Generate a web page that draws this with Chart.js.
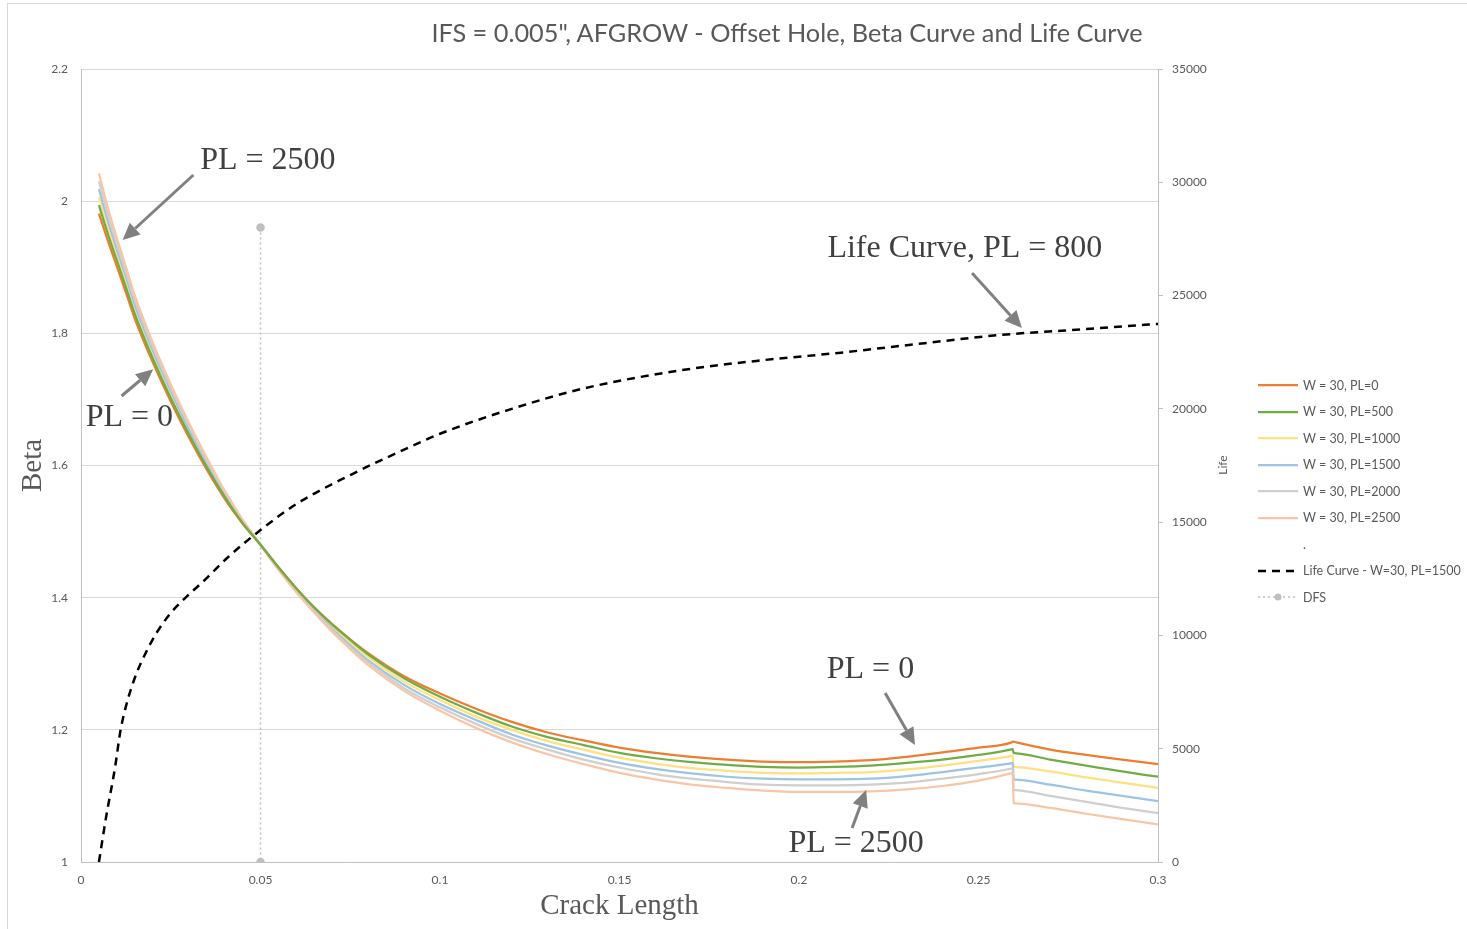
<!DOCTYPE html>
<html>
<head>
<meta charset="utf-8">
<script src="https://cdn.jsdelivr.net/npm/chart.js@4.4.1/dist/chart.umd.min.js"></script>
<style>
  body { margin: 0; background: #fff; }
  #wrap { position: relative; width: 1467px; height: 929px; overflow: hidden; }
  #frame { position: absolute; left: 7px; top: 3px; width: 1470px; height: 940px; border: 1px solid #d9d9d9; box-sizing: border-box; }
  #title { position: absolute; top: 17px; left: 0; width: 1574px; text-align: center; font: 25.3px Lato, sans-serif; color: #595959; }
  #lifeTitle { position: absolute; left: 1222px; top: 465px; transform: translate(-50%, -50%) rotate(-90deg); font: 12px Lato, sans-serif; color: #595959; }
  #legend { position: absolute; left: 1258px; top: 372px; font: 12.5px Lato, sans-serif; color: #595959; }
  .item { height: 26.5px; display: flex; align-items: center; white-space: nowrap; }
  .item svg { width: 40px; height: 10px; margin-right: 5px; }
</style>
</head>
<body>
<div id="wrap">
  <canvas id="myChart" width="1467" height="929"></canvas>
  <div id="frame"></div>
  <div id="title">IFS = 0.005", AFGROW - Offset Hole, Beta Curve and Life Curve</div>
  <div id="lifeTitle">Life</div>
  <div id="legend"></div>
</div>
<script>
// crack length (in) shared by the beta curves
const crackLength = [0.005, 0.0075, 0.01, 0.0125, 0.015, 0.02, 0.025, 0.03, 0.035, 0.04, 0.045, 0.05, 0.055, 0.06, 0.065, 0.07, 0.075, 0.08,
  0.09, 0.1, 0.11, 0.12, 0.13, 0.14, 0.15, 0.16, 0.17, 0.18, 0.19, 0.2, 0.21, 0.22, 0.23, 0.24, 0.25,
  0.2592, 0.2595, 0.2598, 0.2601, 0.27, 0.28, 0.29, 0.3];

const betaPL0 = [1.981, 1.940, 1.901, 1.862, 1.822, 1.756, 1.697, 1.643, 1.594, 1.550, 1.512, 1.480, 1.446, 1.414, 1.385, 1.360, 1.337, 1.316,
  1.281, 1.255, 1.232, 1.212, 1.196, 1.184, 1.173, 1.165, 1.159, 1.155, 1.152, 1.151, 1.152, 1.154, 1.159, 1.166, 1.173,
  1.181, 1.182, 1.182, 1.1816, 1.170, 1.162, 1.155, 1.148];
const betaPL500 = [1.994, 1.950, 1.910, 1.870, 1.829, 1.762, 1.702, 1.648, 1.598, 1.553, 1.513, 1.480, 1.446, 1.414, 1.385, 1.359, 1.336, 1.314,
  1.278, 1.250, 1.226, 1.205, 1.189, 1.177, 1.165, 1.157, 1.151, 1.147, 1.144, 1.143, 1.144, 1.146, 1.150, 1.155, 1.162,
  1.1705, 1.171, 1.165, 1.1647, 1.155, 1.146, 1.137, 1.129];
const betaPL1000 = [2.006, 1.960, 1.919, 1.878, 1.836, 1.768, 1.708, 1.652, 1.601, 1.555, 1.514, 1.480, 1.445, 1.412, 1.382, 1.356, 1.332, 1.310,
  1.273, 1.245, 1.220, 1.200, 1.183, 1.170, 1.158, 1.149, 1.142, 1.138, 1.135, 1.134, 1.135, 1.136, 1.140, 1.146, 1.153,
  1.1605, 1.161, 1.144, 1.1437, 1.137, 1.128, 1.120, 1.112];
const betaPL1500 = [2.018, 1.970, 1.927, 1.886, 1.843, 1.774, 1.713, 1.656, 1.605, 1.557, 1.516, 1.480, 1.444, 1.410, 1.380, 1.353, 1.328, 1.305,
  1.268, 1.239, 1.215, 1.193, 1.176, 1.162, 1.150, 1.141, 1.134, 1.129, 1.126, 1.125, 1.125, 1.126, 1.130, 1.136, 1.143,
  1.1495, 1.150, 1.125, 1.1247, 1.117, 1.108, 1.100, 1.092];
const betaPL2000 = [2.030, 1.980, 1.935, 1.893, 1.850, 1.780, 1.718, 1.661, 1.608, 1.560, 1.517, 1.480, 1.443, 1.409, 1.379, 1.351, 1.325, 1.302,
  1.263, 1.234, 1.209, 1.187, 1.170, 1.155, 1.143, 1.133, 1.126, 1.121, 1.117, 1.116, 1.116, 1.117, 1.120, 1.126, 1.133,
  1.1415, 1.142, 1.109, 1.1087, 1.100, 1.091, 1.082, 1.074];
const betaPL2500 = [2.042, 1.990, 1.944, 1.901, 1.857, 1.786, 1.723, 1.665, 1.612, 1.562, 1.518, 1.480, 1.442, 1.408, 1.377, 1.348, 1.322, 1.298,
  1.259, 1.229, 1.203, 1.181, 1.163, 1.148, 1.135, 1.125, 1.117, 1.112, 1.108, 1.106, 1.106, 1.107, 1.110, 1.115, 1.123,
  1.1345, 1.135, 1.089, 1.0887, 1.082, 1.073, 1.065, 1.057];

// life curve, W=30, PL=1500 (right axis)
const lifeCrack = [0.005, 0.007, 0.0095, 0.011, 0.013, 0.0155, 0.018, 0.021, 0.025, 0.029, 0.0345, 0.041, 0.05, 0.06, 0.075, 0.09, 0.1,
  0.12, 0.14, 0.167, 0.19, 0.211, 0.235, 0.256, 0.28, 0.3];
const lifeCycles = [0, 1990, 4190, 5800, 7150, 8340, 9220, 10100, 10990, 11650, 12450, 13460, 14650, 15800, 17080, 18200, 18900,
  20000, 20900, 21700, 22150, 22470, 22900, 23260, 23520, 23750];

// DFS marker line
const dfsCrack = [0.05, 0.05];
const dfsBeta = [1.96, 1.0];

const seriesNames = ['W = 30, PL=0', 'W = 30, PL=500', 'W = 30, PL=1000', 'W = 30, PL=1500', 'W = 30, PL=2000', 'W = 30, PL=2500'];
const seriesColors = ['#ED7D31', '#70AD47', '#FFE082', '#9DC3E6', '#D0CECE', '#F8C6A6'];
const betaSeries = [betaPL0, betaPL500, betaPL1000, betaPL1500, betaPL2000, betaPL2500];

const pts = (xs, ys) => xs.map((x, i) => ({ x: x, y: ys[i] }));

// annotation text + arrows, placed in data units
const notes = [
  { text: 'PL = 2500', at: [0.0332, 2.062], align: 'left', from: [0.0313, 2.0396], to: [0.0116, 1.9412] },
  { text: 'PL = 0', at: [0.0013, 1.672], align: 'left', from: [0.0113, 1.7052], to: [0.0201, 1.7456] },
  { text: 'Life Curve, PL = 800', at: [0.2462, 1.9276], align: 'center', from: [0.2482, 1.8913], to: [0.2621, 1.8081] },
  { text: 'PL = 0', at: [0.2199, 1.2906], align: 'center', from: [0.2240, 1.2557], to: [0.2323, 1.1770] },
  { text: 'PL = 2500', at: [0.2159, 1.0275], align: 'center', from: [0.2148, 1.0515], to: [0.2187, 1.1090] }
];

const notesPlugin = {
  id: 'notes',
  afterDatasetsDraw(chart) {
    const ctx = chart.ctx, xs = chart.scales.x, ys = chart.scales.y;
    ctx.save();
    notes.forEach(n => {
      const x1 = xs.getPixelForValue(n.from[0]), y1 = ys.getPixelForValue(n.from[1]);
      const x2 = xs.getPixelForValue(n.to[0]), y2 = ys.getPixelForValue(n.to[1]);
      const ang = Math.atan2(y2 - y1, x2 - x1);
      const hl = 17, hw = 8;
      const bx = x2 - hl * Math.cos(ang), by = y2 - hl * Math.sin(ang);
      ctx.strokeStyle = '#808080';
      ctx.fillStyle = '#808080';
      ctx.lineWidth = 3;
      ctx.beginPath();
      ctx.moveTo(x1, y1);
      ctx.lineTo(bx, by);
      ctx.stroke();
      ctx.beginPath();
      ctx.moveTo(x2, y2);
      ctx.lineTo(bx + hw * Math.sin(ang), by - hw * Math.cos(ang));
      ctx.lineTo(bx - hw * Math.sin(ang), by + hw * Math.cos(ang));
      ctx.closePath();
      ctx.fill();
      ctx.fillStyle = '#404040';
      ctx.font = '32px "Liberation Serif", serif';
      ctx.textAlign = n.align;
      ctx.textBaseline = 'middle';
      ctx.fillText(n.text, xs.getPixelForValue(n.at[0]), ys.getPixelForValue(n.at[1]));
    });
    ctx.restore();
  }
};

const datasets = betaSeries.map((s, i) => ({
  label: seriesNames[i],
  data: pts(crackLength, s),
  borderColor: seriesColors[i],
  borderWidth: 2.25,
  yAxisID: 'y',
  order: 10 - i
}));
// draw order in the reference: PL=2500 underneath, PL=500 on top
datasets[0].order = 2;
datasets[1].order = 1;
datasets.push({
  label: 'Life Curve - W=30, PL=1500',
  data: pts(lifeCrack, lifeCycles),
  borderColor: '#000',
  borderWidth: 2.5,
  borderDash: [8, 6],
  yAxisID: 'y1',
  order: 0
});
datasets.push({
  label: 'DFS',
  data: pts(dfsCrack, dfsBeta),
  borderColor: '#BFBFBF',
  borderWidth: 1.5,
  borderDash: [2, 3],
  pointRadius: 3.5,
  pointBackgroundColor: '#BFBFBF',
  pointBorderColor: '#BFBFBF',
  cubicInterpolationMode: 'default',
  tension: 0,
  yAxisID: 'y',
  order: 20
});

const tickFont = { family: 'Lato', size: 12 };
const fmt = v => String(Math.round(v * 1000) / 1000);

new Chart(document.getElementById('myChart'), {
  type: 'scatter',
  data: { datasets: datasets },
  options: {
    responsive: false,
    animation: false,
    datasets: { scatter: { showLine: true, pointRadius: 0, cubicInterpolationMode: 'monotone' } },
    layout: { padding: { left: 0, top: 69, right: 229, bottom: 0 } },
    plugins: { legend: { display: false }, tooltip: { enabled: false } },
    scales: {
      x: {
        type: 'linear', min: 0, max: 0.3,
        ticks: { stepSize: 0.05, color: '#595959', font: tickFont, padding: 11, callback: fmt },
        grid: { display: false, drawTicks: false },
        border: { color: '#BFBFBF' },
        title: { display: true, text: 'Crack Length', color: '#595959', font: { family: 'Liberation Serif', size: 29 }, padding: { top: 0, bottom: 5 } },
        afterFit: s => { s.height = 67; }
      },
      y: {
        min: 1, max: 2.2,
        ticks: { stepSize: 0.2, color: '#595959', font: tickFont, padding: 13, callback: fmt },
        grid: { color: '#D9D9D9', drawTicks: false },
        border: { color: '#BFBFBF' },
        title: { display: true, text: 'Beta', color: '#595959', font: { family: 'Liberation Serif', size: 29 }, padding: { top: 16, bottom: 0 } },
        afterFit: s => { s.width = 81; }
      },
      y1: {
        position: 'right', min: 0, max: 35000,
        ticks: { stepSize: 5000, color: '#595959', font: tickFont, padding: 9, callback: fmt },
        grid: { drawOnChartArea: false, tickLength: 5, color: '#BFBFBF' },
        border: { color: '#BFBFBF' },
        afterFit: s => { s.width = 80; }
      }
    }
  },
  plugins: [notesPlugin]
});

// legend
const legendItems = seriesNames.map((n, i) => ({ name: n, color: seriesColors[i], kind: 'solid' }));
legendItems.push({ name: '.', kind: 'none' });
legendItems.push({ name: 'Life Curve - W=30, PL=1500', color: '#000', kind: 'dash' });
legendItems.push({ name: 'DFS', color: '#BFBFBF', kind: 'dfs' });
const leg = document.getElementById('legend');
legendItems.forEach(it => {
  let svg = '';
  if (it.kind === 'solid') svg = `<line x1="0" y1="5" x2="40" y2="5" stroke="${it.color}" stroke-width="2.25"/>`;
  if (it.kind === 'dash') svg = `<line x1="0" y1="5" x2="40" y2="5" stroke="${it.color}" stroke-width="2.5" stroke-dasharray="8 6"/>`;
  if (it.kind === 'dfs') svg = `<line x1="0" y1="5" x2="40" y2="5" stroke="${it.color}" stroke-width="1.5" stroke-dasharray="2 3"/><circle cx="20" cy="5" r="3.5" fill="${it.color}"/>`;
  const d = document.createElement('div');
  d.className = 'item';
  d.innerHTML = `<svg viewBox="0 0 40 10">${svg}</svg><span>${it.name}</span>`;
  leg.appendChild(d);
});
</script>
</body>
</html>
